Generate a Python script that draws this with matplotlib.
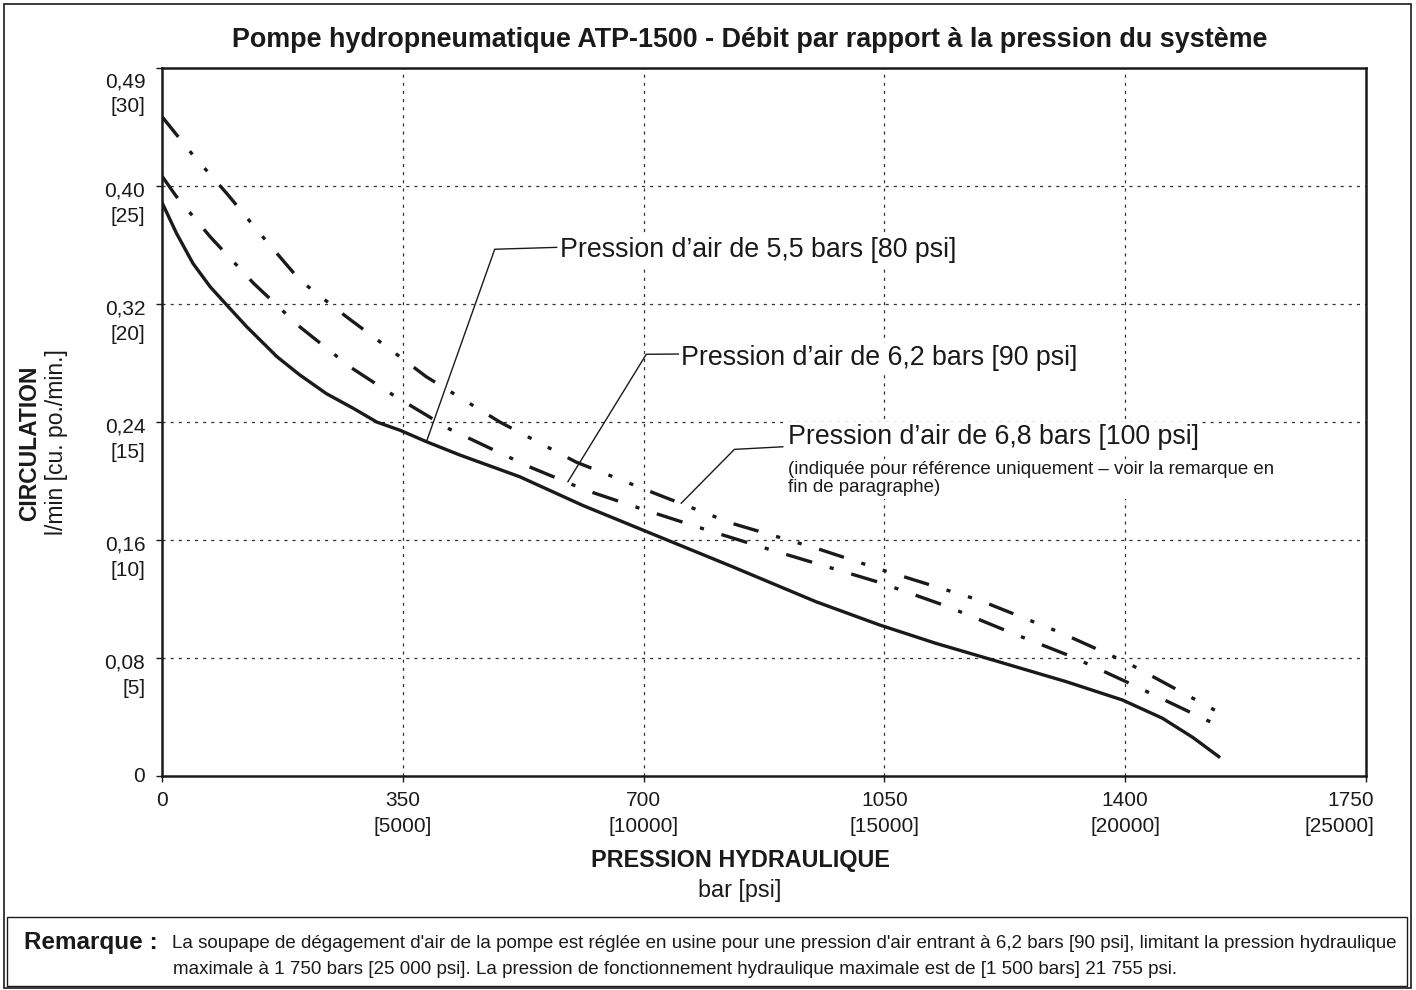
import matplotlib
matplotlib.use("Agg")
import matplotlib.pyplot as plt
import matplotlib.transforms as mtransforms
from matplotlib.patches import Rectangle
import numpy as np

plt.rcParams['font.family'] = ['Liberation Sans', 'DejaVu Sans']

# data: x = bar, y = cu. in/min
bar_55 = np.array([0, 21, 45, 70, 94, 123, 167, 200, 239, 278, 312, 346, 384, 433, 520, 612, 699, 829, 951,
                   1043, 1125, 1207, 1314, 1396, 1454, 1498, 1536])
cu_55 = np.array([24.3, 23.0, 21.72, 20.73, 19.96, 19.04, 17.77, 17.0, 16.2, 15.58, 15.0, 14.65, 14.17, 13.6,
                  12.68, 11.46, 10.42, 8.87, 7.38, 6.4, 5.62, 4.92, 4.0, 3.22, 2.45, 1.64, 0.82])

bar_62 = np.array([0, 21, 70, 133, 200, 273, 336, 418, 534, 617, 699, 800, 883, 1043, 1140, 1236, 1323, 1401, 1527])
cu_62 = np.array([25.42, 24.55, 22.85, 20.88, 19.04, 17.34, 16.14, 14.7, 13.1, 12.1, 11.3, 10.35, 9.6, 8.2, 7.2,
                  6.05, 5.05, 4.0, 2.25])

bar_68 = np.array([0, 45, 94, 142, 200, 268, 336, 384, 491, 602, 723, 829, 951, 1050, 1188, 1304, 1403, 1536])
cu_68 = np.array([27.94, 26.31, 24.69, 23.0, 21.02, 19.46, 17.98, 16.92, 15.0, 13.3, 11.9, 10.7, 9.65, 8.7,
                  7.45, 6.1, 4.8, 2.7])

x_ticks = [0, 350, 700, 1050, 1400, 1750]
x_labels = ["0", "350\n[5000]", "700\n[10000]", "1050\n[15000]", "1400\n[20000]", "1750\n[25000]"]
y_ticks = [0, 5, 10, 15, 20, 25, 30]
y_lmin = ["0", "0,08", "0,16", "0,24", "0,32", "0,40", "0,49"]
y_cuin = ["", "[5]", "[10]", "[15]", "[20]", "[25]", "[30]"]

label_55 = "Pression d\u2019air de 5,5 bars [80 psi]"
label_62 = "Pression d\u2019air de 6,2 bars [90 psi]"
label_68 = "Pression d\u2019air de 6,8 bars [100 psi]"
note_68 = "(indiquée pour référence uniquement \u2013 voir la remarque en\nfin de paragraphe)"

ink = "#1a1a1a"

fig = plt.figure(figsize=(14.16, 9.9), dpi=100)
ax = fig.add_axes([162/1416, 1-776/990, (1366-162)/1416, (776-68)/990])

ax.plot(bar_55, cu_55, color=ink, lw=2.4, solid_joinstyle="round")
ax.plot(bar_62, cu_62, color=ink, lw=2.4, linestyle=(0, (8.1, 5.5, 1.25, 5.5)))
ax.plot(bar_68, cu_68, color=ink, lw=2.4, linestyle=(0, (7.8, 5.5, 1.25, 5.5, 1.25, 5.5)))

ax.set_xlim(0, 1750)
ax.set_ylim(0, 30)
ax.set_xticks(x_ticks, x_labels, fontsize=15)
ax.set_yticks(y_ticks, [""] * len(y_ticks))
ax.tick_params(axis="x", length=4, width=1, pad=7, colors=ink)
ax.tick_params(axis="y", length=4, width=1, colors=ink)
for lab in ax.get_xticklabels():
    lab.set_linespacing(1.45)
# last x label sits right-aligned inside the frame
last = ax.get_xticklabels()[-1]
last.set_horizontalalignment("right")
last.set_transform(last.get_transform() + mtransforms.ScaledTranslation(8/100, 0, fig.dpi_scale_trans))
for s in ax.spines.values():
    s.set_linewidth(1.8)
    s.set_color(ink)

for xv in x_ticks[1:-1]:
    ax.axvline(xv, color="#333333", lw=0.9, linestyle=(0, (2.5, 4)), zorder=0)
for yv in y_ticks[1:-1]:
    ax.axhline(yv, color="#333333", lw=0.9, linestyle=(0, (2.5, 4)), zorder=0)

# y tick labels, two lines each
ytr = ax.get_yaxis_transform()
for yv, a, b in zip(y_ticks, y_lmin, y_cuin):
    off = -10 if yv == 30 else (-0.5 if yv == 0 else -3.6)
    ax.annotate(a, xy=(0, yv), xycoords=ytr, xytext=(-12, off), textcoords="offset points",
                ha="right", va="center", fontsize=15, color=ink)
    if b:
        ax.annotate(b, xy=(0, yv), xycoords=ytr, xytext=(-12, off - 18), textcoords="offset points",
                    ha="right", va="center", fontsize=15, color=ink)

# curve labels with leader lines
box = dict(facecolor="white", edgecolor="none", pad=1.5)
ax.plot([573.6, 483.6, 384.4], [22.40, 22.32, 14.17], color=ink, lw=1)
ax.text(579, 22.29, label_55, fontsize=19.3, va="center", ha="left", color=ink, bbox=box)
ax.plot([752, 703.9, 590], [17.88, 17.87, 12.47], color=ink, lw=1)
ax.text(755, 17.71, label_62, fontsize=19.3, va="center", ha="left", color=ink, bbox=box)
ax.plot([902.3, 832, 754.7], [13.95, 13.84, 11.56], color=ink, lw=1)
ax.text(910, 14.36, label_68, fontsize=19.3, va="center", ha="left", color=ink, bbox=box)
ax.text(910, 13.33, note_68, fontsize=13.4, va="top", ha="left", linespacing=1.05, color=ink,
        bbox=dict(facecolor="white", edgecolor="none", pad=2))

fig.text(750/1416, 1-40/990, "Pompe hydropneumatique ATP-1500 - Débit par rapport à la pression du système",
         ha="center", va="center", fontsize=19.4, fontweight="bold", color=ink)

fig.text(30/1416, 1-443/990, "CIRCULATION", rotation=90, ha="center", va="center",
         fontsize=16.5, fontweight="bold", color=ink)
fig.text(57/1416, 1-442/990, "l/min [cu. po./min.]", rotation=90, ha="center", va="center",
         fontsize=16.5, color=ink)

fig.text(740/1416, 1-861/990, "PRESSION HYDRAULIQUE", ha="center", va="center",
         fontsize=16.8, fontweight="bold", color=ink)
fig.text(740/1416, 1-890/990, "bar [psi]", ha="center", va="center",
         fontsize=16.8, color=ink)

# frames
fig.patches.append(Rectangle((4/1416, 1-988/990), 1407/1416, 984/990, transform=fig.transFigure,
                             fill=False, edgecolor=ink, lw=1.2))
fig.patches.append(Rectangle((7/1416, 1-986/990), 1400/1416, 69/990, transform=fig.transFigure,
                             fill=False, edgecolor=ink, lw=1.0))

fig.text(24/1416, 1-943/990, "Remarque :", ha="left", va="center", fontsize=17.5,
         fontweight="bold", color=ink)
fig.text(172/1416, 1-943/990,
         "La soupape de dégagement d'air de la pompe est réglée en usine pour une pression d'air entrant à 6,2 bars [90 psi], limitant la pression hydraulique",
         ha="left", va="center", fontsize=13.5, color=ink)
fig.text(173/1416, 1-970/990,
         "maximale à 1 750 bars [25 000 psi]. La pression de fonctionnement hydraulique maximale est de [1 500 bars] 21 755 psi.",
         ha="left", va="center", fontsize=13.5, color=ink)

fig.savefig("out.png", dpi=100)
